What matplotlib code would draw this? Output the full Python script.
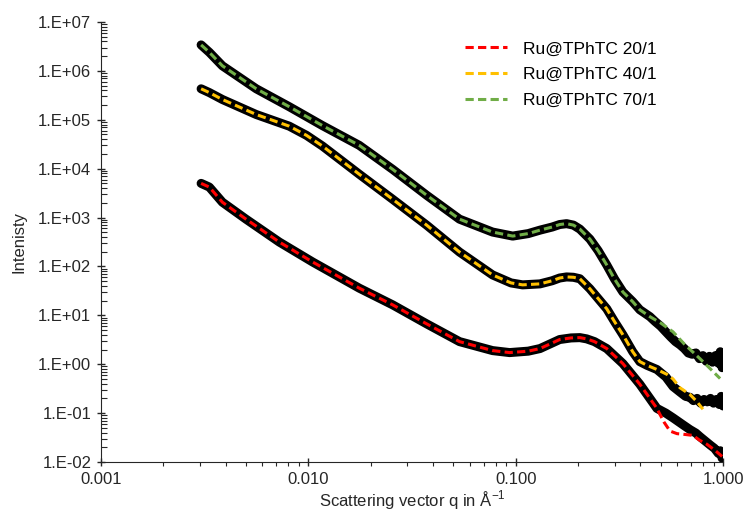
import matplotlib
matplotlib.use('Agg')
import matplotlib.pyplot as plt
from matplotlib.ticker import LogLocator, FuncFormatter, NullFormatter
import math

plt.rcParams['font.family'] = ['Liberation Sans', 'DejaVu Sans']
plt.rcParams['mathtext.fontset'] = 'custom'
plt.rcParams['mathtext.rm'] = 'Liberation Sans'

labels = ['Ru@TPhTC 20/1', 'Ru@TPhTC 40/1', 'Ru@TPhTC 70/1']
colors = ['#FF0000', '#FFC000', '#70AD47']

# smooth part: measured data and fit lie on top of each other here
q_20 = [0.00304, 0.00333, 0.00385, 0.0050, 0.00724, 0.0105, 0.0176, 0.0255, 0.0372,
        0.0536, 0.0774, 0.0935, 0.115, 0.131, 0.163, 0.185, 0.204, 0.22, 0.240, 0.275,
        0.329, 0.397, 0.48]
I_20 = [5.0e3, 4.2e3, 2.06e3, 930, 316, 123, 36, 16.4, 6.7,
        2.9, 1.9, 1.73, 1.85, 2.09, 3.2, 3.45, 3.5, 3.3, 2.9, 2.09,
        1.03, 0.39, 0.125]

q_40 = [0.00304, 0.00333, 0.00385, 0.00561, 0.00809, 0.0098, 0.0117, 0.0176, 0.0255, 0.0372,
        0.0536, 0.0774, 0.095, 0.108, 0.131, 0.150, 0.163, 0.176, 0.19, 0.204, 0.228, 0.250,
        0.275, 0.300, 0.329, 0.367, 0.397, 0.43, 0.48]
I_40 = [4.3e5, 3.6e5, 2.6e5, 1.28e5, 7.4e4, 4.8e4, 2.9e4, 7.7e3, 2.37e3, 700,
        197, 67, 46, 42, 44, 51, 58, 61, 60, 56, 35, 22,
        13.6, 7.4, 4.0, 1.8, 1.13, 0.95, 0.78]

q_70 = [0.00304, 0.00333, 0.00385, 0.00561, 0.00809, 0.0117, 0.0176, 0.0255, 0.0372, 0.0536,
        0.0774, 0.0968, 0.115, 0.131, 0.150, 0.163, 0.176, 0.19, 0.204, 0.228, 0.250, 0.275,
        0.300, 0.329, 0.367, 0.397, 0.444]
I_70 = [3.4e6, 2.4e6, 1.27e6, 4.3e5, 1.85e5, 7.6e4, 3.0e4, 9.7e3, 2.86e3, 927,
        505, 418, 470, 553, 640, 720, 750, 700, 580, 363, 210, 107,
        55, 30, 19, 13, 9.4]

# high q: measured data gets noisy, fit goes its own way
q_20_data_tail = [0.53, 0.574, 0.64, 0.693, 0.74, 0.774, 0.82, 0.87, 0.91, 0.95, 0.97, 0.99, 1.0]
I_20_data_tail = [0.1, 0.08, 0.058, 0.046, 0.039, 0.033, 0.027, 0.022, 0.019, 0.015, 0.017, 0.012, 0.013]
q_20_fit_tail = [0.496, 0.52, 0.555, 0.60, 0.641, 0.716, 0.77, 0.837, 0.92, 0.99]
I_20_fit_tail = [0.095, 0.065, 0.043, 0.038, 0.037, 0.035, 0.028, 0.023, 0.017, 0.013]

q_40_data_tail = [0.53, 0.574, 0.62, 0.66, 0.693, 0.72, 0.75, 0.78, 0.81, 0.84, 0.87, 0.90, 0.93, 0.96, 0.98, 1.0]
I_40_data_tail = [0.55, 0.35, 0.27, 0.22, 0.21, 0.18, 0.2, 0.16, 0.19, 0.17, 0.2, 0.16, 0.19, 0.15, 0.22, 0.14]
q_40_fit_tail = [0.537, 0.574, 0.62, 0.693, 0.75, 0.80]
I_40_fit_tail = [0.62, 0.5, 0.33, 0.24, 0.17, 0.12]

q_70_data_tail = [0.47, 0.50, 0.53, 0.56, 0.59, 0.62, 0.65, 0.68, 0.71, 0.74, 0.77, 0.80,
                  0.83, 0.86, 0.89, 0.92, 0.95, 0.97, 0.99, 1.0]
I_70_data_tail = [7.5, 6.0, 4.6, 3.6, 2.9, 2.5, 2.1, 1.7, 1.6, 1.7, 1.3, 1.5,
                  1.15, 1.45, 1.1, 1.5, 1.05, 1.8, 0.85, 1.4]
q_70_fit_tail = [0.50, 0.574, 0.65, 0.774, 0.87, 0.968]
I_70_fit_tail = [7.0, 4.6, 2.6, 1.3, 0.8, 0.51]

smooth = [(q_20, I_20), (q_40, I_40), (q_70, I_70)]
data_tails = [(q_20_data_tail, I_20_data_tail), (q_40_data_tail, I_40_data_tail), (q_70_data_tail, I_70_data_tail)]
fit_tails = [(q_20_fit_tail, I_20_fit_tail), (q_40_fit_tail, I_40_fit_tail), (q_70_fit_tail, I_70_fit_tail)]

fig = plt.figure(figsize=(7.43, 5.12), dpi=100)
ax = fig.add_axes([101/743, 1 - 462/512, 622/743, 440/512])

for i in range(3):
    q, I = smooth[i]
    qd, Id = data_tails[i]
    ax.plot(q + qd, I + Id, color='black', lw=6.5, solid_joinstyle='round', solid_capstyle='round', zorder=2)
for i in range(3):
    q, I = smooth[i]
    qf, If = fit_tails[i]
    ax.plot(q + qf, I + If, color=colors[i], lw=2.2, dashes=(2.7, 1.4), label=labels[i], zorder=3)

ax.set_xscale('log')
ax.set_yscale('log')
ax.set_xlim(0.001, 1.0)
ax.set_ylim(1e-2, 1e7)

ax.xaxis.set_major_formatter(FuncFormatter(lambda v, p: '%.3f' % v))
ax.yaxis.set_major_formatter(FuncFormatter(lambda v, p: '1.E%+03d' % int(round(math.log10(v)))))
ax.yaxis.set_major_locator(LogLocator(base=10, numticks=20))
ax.yaxis.set_minor_locator(LogLocator(base=10, subs=range(2, 10), numticks=100))
ax.xaxis.set_minor_locator(LogLocator(base=10, subs=range(2, 10), numticks=100))
ax.xaxis.set_minor_formatter(NullFormatter())
ax.yaxis.set_minor_formatter(NullFormatter())

ax.tick_params(which='major', direction='inout', length=6, width=1, labelsize=12, colors='#262626')
ax.tick_params(axis='y', which='major', pad=4)
ax.tick_params(axis='x', which='major', pad=4)
ax.tick_params(axis='y', which='minor', direction='in', length=4, width=0.8, colors='#262626')
ax.tick_params(axis='x', which='minor', direction='out', length=3, width=0.8, colors='#262626')
for s in ['top', 'right']:
    ax.spines[s].set_visible(False)
for s in ['left', 'bottom']:
    ax.spines[s].set_color('#262626')

ax.set_xlabel('Scattering vector q in Å$^{\\mathregular{-1}}$', fontsize=12, color='#262626', labelpad=1)
ax.set_ylabel('Intenisty', fontsize=12, color='#262626', labelpad=8)

ax.legend(loc='upper left', bbox_to_anchor=(0.585, 0.956), frameon=False, fontsize=12.5,
          handlelength=2.4, handletextpad=0.95, labelspacing=0.6, borderpad=0, borderaxespad=0)

fig.savefig('out.png', dpi=100)
